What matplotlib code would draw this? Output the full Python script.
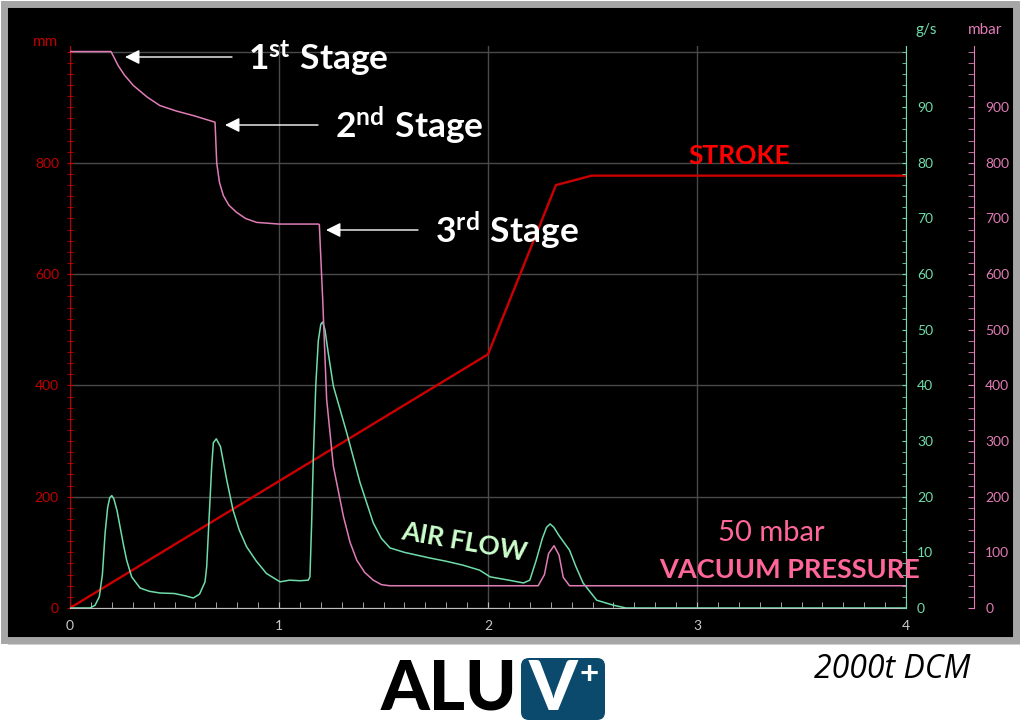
import matplotlib
matplotlib.use("Agg")
import matplotlib.pyplot as plt
from matplotlib.patches import Rectangle, FancyBboxPatch
from matplotlib.ticker import MultipleLocator

plt.rcParams['font.family'] = ['Lato', 'DejaVu Sans']
plt.rcParams['mathtext.fontset'] = 'custom'
plt.rcParams['mathtext.rm'] = 'Lato:bold'
plt.rcParams['mathtext.it'] = 'Lato:bold'

# stroke (mm)
stroke_t = [0, 2.0, 2.325, 2.496, 4.0]
stroke_mm = [0, 456, 760, 777, 777]

# vacuum pressure (mbar)
vac_t = [0, 0.196, 0.21, 0.23, 0.26, 0.303, 0.37, 0.43, 0.51, 0.59, 0.686,
         0.694, 0.702, 0.715, 0.734, 0.76, 0.797, 0.84, 0.893, 1.0, 1.188,
         1.193, 1.209, 1.228, 1.26, 1.308, 1.34, 1.372, 1.41, 1.451, 1.49,
         1.53, 2.24, 2.27, 2.29, 2.316, 2.34, 2.36, 2.39, 4.0]
vac_mbar = [1000, 1000, 990, 975, 958, 939, 918, 903, 893, 885, 874,
            873, 800, 765, 741, 724, 711, 700, 693, 690, 690,
            689, 555, 375, 255, 165, 118, 86, 64, 50, 42,
            40, 40, 60, 98, 112, 95, 55, 40, 40]

# air flow (g/s)
air_t = [0, 0.096, 0.12, 0.14, 0.155, 0.168, 0.18, 0.19, 0.2, 0.21, 0.225,
         0.24, 0.255, 0.271, 0.295, 0.335, 0.38, 0.43, 0.5, 0.55, 0.59, 0.62,
         0.646, 0.654, 0.662, 0.678, 0.686, 0.70, 0.72, 0.75, 0.78, 0.81,
         0.845, 0.89, 0.94, 1.005, 1.05, 1.1, 1.14, 1.148, 1.156, 1.164,
         1.176, 1.188, 1.2, 1.209, 1.22, 1.235, 1.26, 1.324, 1.388, 1.451,
         1.49, 1.531, 1.6, 1.72, 1.8, 1.88, 1.96, 2.01, 2.1, 2.17, 2.2, 2.23,
         2.26, 2.28, 2.297, 2.315, 2.34, 2.39, 2.42, 2.455, 2.52, 2.6, 2.66, 4.0]
air_gs = [0, 0, 0.5, 2.0, 6.0, 13.5, 18, 19.8, 20.2, 19.6, 17.5,
          14.5, 11.5, 8.6, 5.6, 3.6, 3.0, 2.7, 2.6, 2.2, 1.8, 2.5,
          4.7, 7.4, 13.5, 25.5, 29.7, 30.4, 29.0, 23, 17.6, 14,
          11, 8.5, 6.2, 4.7, 5.0, 4.9, 5.0, 5.6, 15, 26.7,
          40, 48, 51, 51.4, 50, 46, 39.9, 31.5, 22.5, 15.3,
          12.5, 10.8, 10, 9, 8.4, 7.7, 6.8, 5.6, 5.0, 4.5, 5.0, 8.5,
          12.5, 14.5, 15.1, 14.5, 13, 10.4, 7.5, 4.5, 1.4, 0.5, 0, 0]

x_ticks = [0, 1, 2, 3, 4]
mm_ticks = [0, 200, 400, 600, 800, 1000]
mm_labels = ['0', '200', '400', '600', '800', '']
gs_ticks = [0, 10, 20, 30, 40, 50, 60, 70, 80, 90]
mbar_ticks = [0, 100, 200, 300, 400, 500, 600, 700, 800, 900]

RED = '#cc0000'
RED_AX = '#c00000'
GREEN = '#6fdcaa'
PINK = '#e07cb6'
PINK_TXT = '#ff6699'
GRID = '#4a4a4a'

W, H = 1024, 723


def fp(x, y):
    return x / W, 1 - y / H


fig = plt.figure(figsize=(W / 100, H / 100), dpi=100, facecolor='white')

# black panel with grey frame
fig.patches.append(Rectangle((8 / W, 1 - 645 / H), 1012 / W, 640 / H,
                             transform=fig.transFigure, facecolor='#d0d0d0',
                             edgecolor='none', zorder=-3))
fig.patches.append(Rectangle((4 / W, 1 - 640 / H), 1012 / W, 636 / H,
                             transform=fig.transFigure, facecolor='black',
                             edgecolor='#a6a6a6', linewidth=5, zorder=-2))

ax = fig.add_axes([70 / W, 1 - 608 / H, 836 / W, 562 / H])
ax.set_facecolor('black')
ax.set_xlim(0, 4)
ax.set_ylim(0, 1010)

ax.plot(stroke_t, stroke_mm, color=RED, lw=1.7, zorder=3)

ax.set_xticks(x_ticks)
ax.xaxis.set_minor_locator(MultipleLocator(0.1))
ax.set_yticks(mm_ticks)
ax.set_yticklabels(mm_labels)
ax.yaxis.set_minor_locator(MultipleLocator(20))
ax.grid(True, which='major', color=GRID, lw=1)
ax.tick_params(axis='x', which='both', direction='in', length=4, color='#bfbfbf',
               labelcolor='#c8c8c8', labelsize=10, pad=9)
ax.tick_params(axis='y', which='both', direction='inout', length=4, color=RED_AX,
               labelcolor=RED_AX, labelsize=10, pad=6)
for s in ['top', 'right']:
    ax.spines[s].set_visible(False)
ax.spines['left'].set_color(RED_AX)
ax.spines['bottom'].set_color('#bfbfbf')

ax2 = ax.twinx()
ax2.plot(air_t, air_gs, color=GREEN, lw=1.1, zorder=4)
ax2.set_ylim(0, 101)
ax2.set_yticks(gs_ticks)
ax2.yaxis.set_minor_locator(MultipleLocator(2))
ax2.tick_params(axis='y', which='both', direction='in', length=3, color=GREEN,
                labelcolor=GREEN, labelsize=10, pad=8)
for s in ['top', 'left', 'bottom']:
    ax2.spines[s].set_visible(False)
ax2.spines['right'].set_color(GREEN)

ax3 = ax.twinx()
ax3.plot(vac_t, vac_mbar, color=PINK, lw=1.1, zorder=5)
ax3.set_ylim(0, 1010)
ax3.set_yticks(mbar_ticks)
ax3.yaxis.set_minor_locator(MultipleLocator(20))
ax3.spines['right'].set_position(('outward', 49))
ax3.tick_params(axis='y', which='both', direction='in', length=4, color=PINK,
                labelcolor=PINK, labelsize=10, pad=8)
for s in ['top', 'left', 'bottom']:
    ax3.spines[s].set_visible(False)
ax3.spines['right'].set_color(PINK)

# unit labels
fig.text(*fp(45, 42), 'mm', color=RED_AX, fontsize=11, ha='center', va='center')
fig.text(*fp(926, 30), 'g/s', color=GREEN, fontsize=11, ha='center', va='center')
fig.text(*fp(985, 30), 'mbar', color=PINK, fontsize=11, ha='center', va='center')

# stage arrows
stages = [((125, 57), (232, 57), (248, 58), r'$\mathrm{1^{st}\ Stage}$'),
          ((225, 125), (318, 125), (335, 126), r'$\mathrm{2^{nd}\ Stage}$'),
          ((326, 230), (418, 230), (435, 231), r'$\mathrm{3^{rd}\ Stage}$')]
for tip, tail, tpos, label in stages:
    fig.add_artist(plt.Annotation('', xy=fp(*tip), xytext=fp(*tail),
                                  xycoords='figure fraction', textcoords='figure fraction',
                                  arrowprops=dict(arrowstyle='-|>', color='white', lw=1,
                                                  mutation_scale=22, shrinkA=0, shrinkB=0)))
    fig.text(*fp(*tpos), label, color='white', fontsize=25.5, ha='left', va='center')

fig.text(*fp(739, 156), 'STROKE', color='#ff0000', fontsize=19, fontweight='bold',
         ha='center', va='center')
fig.text(*fp(464, 542), 'AIR FLOW', color='#ccffcc', fontsize=19, fontweight='bold',
         ha='center', va='center', rotation=-10)
fig.text(*fp(771, 533), '50 mbar', color=PINK_TXT, fontsize=21, ha='center', va='center')
fig.text(*fp(790, 570), 'VACUUM PRESSURE', color=PINK_TXT, fontsize=19.5,
         fontweight='bold', ha='center', va='center')

# footer
fig.text(*fp(892, 669), '2000t DCM', color='black', fontsize=23, style='italic',
         ha='center', va='center', family=['Open Sans', 'DejaVu Sans'])

lax = fig.add_axes([370 / W, 0, 250 / W, 73 / H])
lax.set_xlim(370, 620)
lax.set_ylim(723, 650)
lax.axis('off')
lax.text(449, 690, 'ALU', color='black', fontsize=50, fontweight='black',
         ha='center', va='center')
lax.add_patch(FancyBboxPatch((521, 658), 84, 62,
                             boxstyle='round,pad=0,rounding_size=8',
                             facecolor='#0b4a6c', edgecolor='none'))
lax.text(553, 690, 'V', color='white', fontsize=50, fontweight='black',
         ha='center', va='center')
lax.text(589, 674, '+', color='white', fontsize=24, fontweight='bold',
         ha='center', va='center')

fig.savefig('out.png', dpi=100, facecolor='white')
